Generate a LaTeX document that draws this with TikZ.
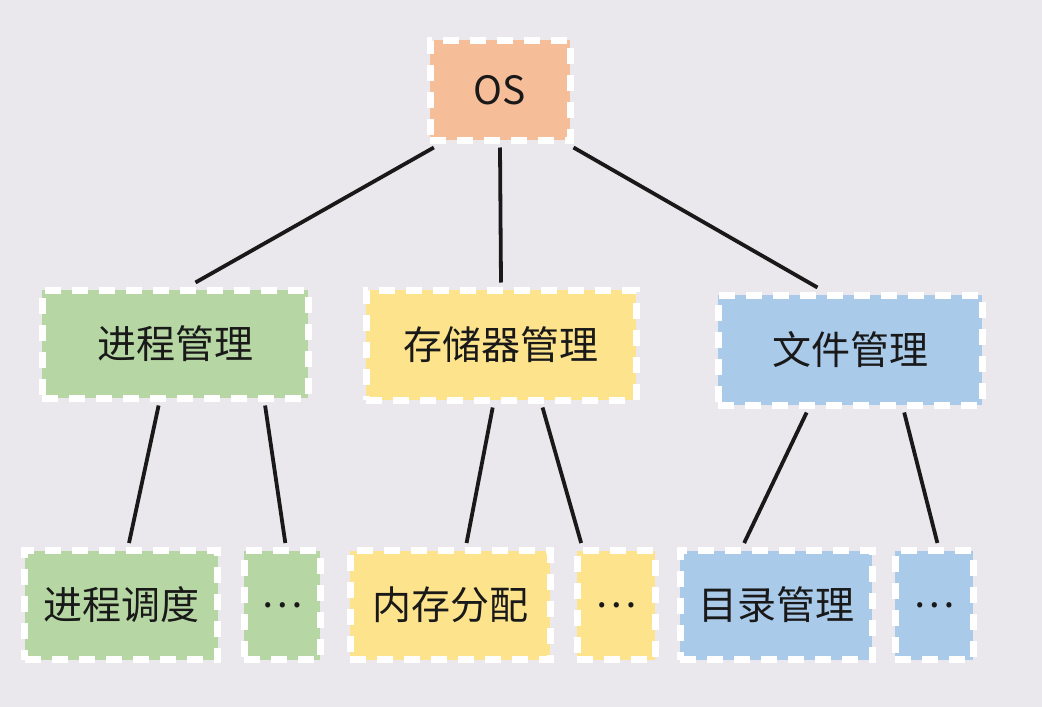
\documentclass[tikz,border=0pt]{standalone}
\usepackage{fontspec}
\setmainfont{Noto Sans CJK SC}
\usetikzlibrary{calc}
\definecolor{bgc}{HTML}{EAE8EC}
\definecolor{osc}{HTML}{F6BD99}
\definecolor{grc}{HTML}{B6D7A3}
\definecolor{ylc}{HTML}{FDE38C}
\definecolor{blc}{HTML}{AACAEA}
\tikzset{
  box/.style={draw=white, line width=7pt, dash pattern=on 16pt off 11pt, inner sep=0pt, font=\fontsize{39}{44}\selectfont, text=black!90},
  link/.style={draw=black!90, line width=3.8pt},
}
\begin{document}
\begin{tikzpicture}[x=1pt,y=-1pt]
\fill[bgc] (0,0) rectangle (1042,707);
\useasboundingbox (0,0) rectangle (1042,707);
\node[box, fill=osc, minimum width=140pt, minimum height=100pt] (os) at (500,90) {OS};
\node[box, fill=grc, minimum width=266pt, minimum height=108pt] (jc) at (175,344) {进程管理};
\node[box, fill=ylc, minimum width=270pt, minimum height=110pt] (cc) at (501,345) {存储器管理};
\node[box, fill=blc, minimum width=264pt, minimum height=110pt] (wj) at (850,350) {文件管理};
\node[box, fill=grc, minimum width=193pt, minimum height=109pt] (dd) at (121,605) {进程调度};
\node[box, fill=grc, minimum width=76pt, minimum height=109pt] (d1) at (282,605) {…};
\node[box, fill=ylc, minimum width=200pt, minimum height=109pt] (nc) at (450,605) {内存分配};
\node[box, fill=ylc, minimum width=78pt, minimum height=109pt] (d2) at (616,605) {…};
\node[box, fill=blc, minimum width=192pt, minimum height=109pt] (ml) at (776,605) {目录管理};
\node[box, fill=blc, minimum width=78pt, minimum height=109pt] (d3) at (934,605) {…};
\draw[link] ($(os.south west)!0.05!(os.south east)+(0,4)$) -- ($(jc.north west)!0.575!(jc.north east)+(0,-4)$);
\draw[link] ($(os.south)+(0,4)$) -- ($(cc.north west)!0.5!(cc.north east)+(0,-4)$);
\draw[link] ($(os.south east)+(0,4)$) -- ($(wj.north west)!0.38!(wj.north east)+(0,-4)$);
\draw[link] ($(jc.south west)!0.44!(jc.south east)+(0,4)$) -- ($(dd.north west)!0.54!(dd.north east)+(0,-4)$);
\draw[link] ($(jc.south west)!0.83!(jc.south east)+(0,4)$) -- ($(d1.north west)!0.54!(d1.north east)+(0,-4)$);
\draw[link] ($(cc.south west)!0.47!(cc.south east)+(0,4)$) -- ($(nc.north west)!0.58!(nc.north east)+(0,-4)$);
\draw[link] ($(cc.south west)!0.65!(cc.south east)+(0,4)$) -- ($(d2.north west)!0.09!(d2.north east)+(0,-4)$);
\draw[link] ($(wj.south west)!0.34!(wj.south east)+(0,4)$) -- ($(ml.north west)!0.34!(ml.north east)+(0,-4)$);
\draw[link] ($(wj.south west)!0.70!(wj.south east)+(0,4)$) -- ($(d3.north west)!0.54!(d3.north east)+(0,-4)$);
\end{tikzpicture}
\end{document}
